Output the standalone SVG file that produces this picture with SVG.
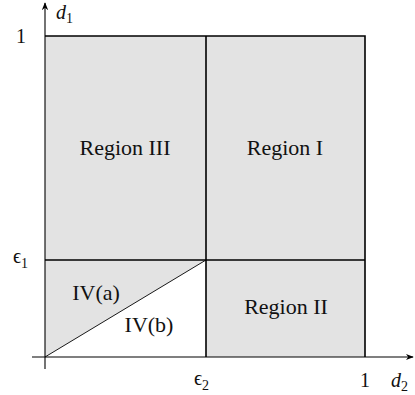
<svg xmlns="http://www.w3.org/2000/svg" width="415" height="395" viewBox="0 0 415 395">
  <style>
    text { font-family: "Liberation Serif", "DejaVu Serif", "Times New Roman", serif; fill: #111; }
    .reg { font-size: 22px; }
    .ax { font-size: 20px; }
    .it { font-style: italic; }
    .sub { font-size: 14px; font-style: normal; }
    .box { stroke: #000; stroke-width: 1.6; fill: none; }
    .axis { stroke: #000; stroke-width: 1.1; fill: none; }
  </style>
  <defs>
    <marker id="arr" viewBox="0 0 10 10" refX="9" refY="5" markerWidth="8" markerHeight="8" markerUnits="userSpaceOnUse" orient="auto">
      <path d="M0,1 L10,5 L0,9 L3,5 Z" fill="#000"/>
    </marker>
  </defs>

  <!-- shaded regions -->
  <g id="regions">
    <rect x="45" y="36" width="320" height="321" fill="#e3e3e3"/>
    <polygon points="45,357 206,260 206,357" fill="#fff"/>
  </g>

  <!-- axes and partition lines -->
  <g id="connectors">
    <line class="axis" x1="32" y1="357" x2="413" y2="357" marker-end="url(#arr)"/>
    <line class="axis" x1="45" y1="369" x2="45" y2="3" marker-end="url(#arr)"/>
    <polyline class="box" points="45,36 365,36 365,357"/>
    <line class="box" x1="206" y1="36" x2="206" y2="357"/>
    <line class="box" x1="45" y1="260" x2="365" y2="260"/>
    <line stroke="#000" stroke-width="0.9" x1="45" y1="357" x2="206" y2="260"/>
  </g>

  <!-- axis labels -->
  <g id="axis-labels">
    <text class="ax" x="21" y="43" text-anchor="middle">1</text>
    <text class="ax it" x="56" y="19">d<tspan class="sub" dy="4">1</tspan></text>
    <text class="ax" x="13" y="263">ϵ<tspan class="sub" dy="5">1</tspan></text>
    <text class="ax" x="194" y="385">ϵ<tspan class="sub" dy="5">2</tspan></text>
    <text class="ax" x="365" y="387" text-anchor="middle">1</text>
    <text class="ax it" x="391" y="387">d<tspan class="sub" dy="4">2</tspan></text>
  </g>

  <g id="region-III"><text class="reg" x="125" y="155" text-anchor="middle">Region III</text></g>
  <g id="region-I"><text class="reg" x="285" y="155" text-anchor="middle">Region I</text></g>
  <g id="region-II"><text class="reg" x="286" y="314" text-anchor="middle">Region II</text></g>
  <g id="region-IVa"><text class="reg" x="96" y="300" text-anchor="middle">IV(a)</text></g>
  <g id="region-IVb"><text class="reg" x="149" y="332" text-anchor="middle">IV(b)</text></g>
</svg>
